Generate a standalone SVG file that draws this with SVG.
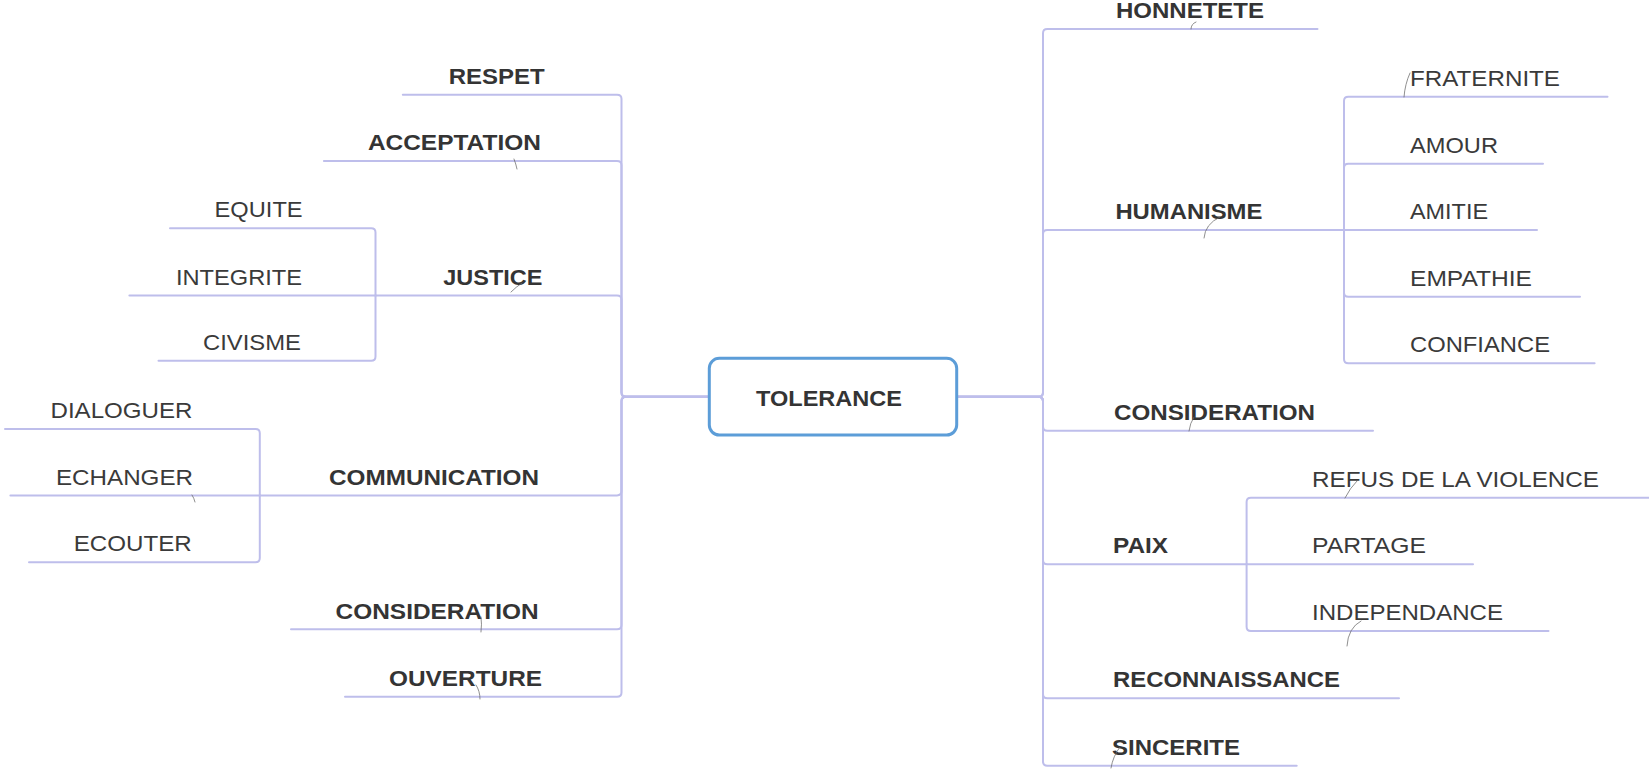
<svg xmlns="http://www.w3.org/2000/svg" width="1649" height="771" viewBox="0 0 1649 771">
  <style>
    .bg { fill: #ffffff; }
    .link { fill: none; stroke: #bebeeb; stroke-width: 2; stroke-linecap: round; stroke-linejoin: round; }
    .root { fill: #ffffff; stroke: #5c9dd8; stroke-width: 3; }
    .t1 { font-family: "Liberation Sans", Arial, sans-serif; font-size: 22px; font-weight: 700; fill: #343434; }
    .t2 { font-family: "Liberation Sans", Arial, sans-serif; font-size: 22px; font-weight: 400; fill: #3a3a3a; }
    .mark { fill: none; stroke: #6a6a6a; stroke-width: 1; stroke-linecap: round; opacity: 0.75; }
  </style>

  <rect class="bg" x="0" y="0" width="1649" height="771"/>

  <!-- connectors -->
  <g id="connectors">
    <!-- left branches, leaving the root and curving onto the left trunk -->
    <path class="link" d="M 709 396.7 H 626 Q 621.5 396.7 621.5 392.2 V 99 Q 621.5 94.7 617 94.7 H 402.8"/>
    <path class="link" d="M 709 396.7 H 626 Q 621.5 396.7 621.5 392.2 V 165.2 Q 621.5 160.9 617 160.9 H 323.9"/>
    <path class="link" d="M 709 396.7 H 626 Q 621.5 396.7 621.5 392.2 V 299.8 Q 621.5 295.5 617 295.5 H 375.5"/>
    <path class="link" d="M 709 396.7 H 626 Q 621.5 396.7 621.5 401.2 V 491.1 Q 621.5 495.4 617 495.4 H 259.8"/>
    <path class="link" d="M 709 396.7 H 626 Q 621.5 396.7 621.5 401.2 V 625 Q 621.5 629.3 617 629.3 H 291"/>
    <path class="link" d="M 709 396.7 H 626 Q 621.5 396.7 621.5 401.2 V 692.4 Q 621.5 696.7 617 696.7 H 345"/>

    <!-- JUSTICE children -->
    <path class="link" d="M 375.5 295.5 H 129.4"/>
    <path class="link" d="M 375.5 295.5 V 232.5 Q 375.5 228.2 371.2 228.2 H 170"/>
    <path class="link" d="M 375.5 295.5 V 356.4 Q 375.5 360.7 371.2 360.7 H 158.5"/>

    <!-- COMMUNICATION children -->
    <path class="link" d="M 259.8 495.4 H 10.4"/>
    <path class="link" d="M 259.8 495.4 V 433.3 Q 259.8 429 255.5 429 H 5"/>
    <path class="link" d="M 259.8 495.4 V 558 Q 259.8 562.3 255.5 562.3 H 29"/>

    <!-- right branches, leaving the root and curving onto the right trunk -->
    <path class="link" d="M 956.7 396.7 H 1038.5 Q 1043 396.7 1043 392.2 V 33.3 Q 1043 29 1047.3 29 H 1317.5"/>
    <path class="link" d="M 956.7 396.7 H 1038.5 Q 1043 396.7 1043 392.2 V 234.3 Q 1043 230 1047.3 230 H 1344"/>
    <path class="link" d="M 956.7 396.7 H 1038.5 Q 1043 396.7 1043 401.2 V 426.4 Q 1043 430.7 1047.3 430.7 H 1373"/>
    <path class="link" d="M 956.7 396.7 H 1038.5 Q 1043 396.7 1043 401.2 V 560 Q 1043 564.3 1047.3 564.3 H 1246.6"/>
    <path class="link" d="M 956.7 396.7 H 1038.5 Q 1043 396.7 1043 401.2 V 694 Q 1043 698.3 1047.3 698.3 H 1399"/>
    <path class="link" d="M 956.7 396.7 H 1038.5 Q 1043 396.7 1043 401.2 V 761.4 Q 1043 765.7 1047.3 765.7 H 1296.7"/>

    <!-- HUMANISME children -->
    <path class="link" d="M 1344 230 V 101 Q 1344 96.7 1348.3 96.7 H 1607.5"/>
    <path class="link" d="M 1344 230 V 168 Q 1344 163.7 1348.3 163.7 H 1543"/>
    <path class="link" d="M 1344 230 H 1537"/>
    <path class="link" d="M 1344 230 V 292.4 Q 1344 296.7 1348.3 296.7 H 1580"/>
    <path class="link" d="M 1344 230 V 359 Q 1344 363.3 1348.3 363.3 H 1594.6"/>

    <!-- PAIX children -->
    <path class="link" d="M 1246.6 564.3 V 502 Q 1246.6 497.7 1250.9 497.7 H 1649"/>
    <path class="link" d="M 1246.6 564.3 H 1473"/>
    <path class="link" d="M 1246.6 564.3 V 626.7 Q 1246.6 631 1250.9 631 H 1548.5"/>
  </g>

  <!-- root -->
  <g id="node-tolerance">
    <rect class="root" x="709.3" y="358.3" width="247.4" height="76.7" rx="10" ry="10"/>
    <text class="t1" x="756" y="406" textLength="146" lengthAdjust="spacingAndGlyphs">TOLERANCE</text>
  </g>

  <!-- left side -->
  <g id="node-respet"><text class="t1" x="448.7" y="83.7" textLength="96" lengthAdjust="spacingAndGlyphs">RESPET</text></g>
  <g id="node-acceptation"><text class="t1" x="367.9" y="150" textLength="173" lengthAdjust="spacingAndGlyphs">ACCEPTATION</text></g>
  <g id="node-justice"><text class="t1" x="443.3" y="284.5" textLength="99" lengthAdjust="spacingAndGlyphs">JUSTICE</text></g>
  <g id="node-equite"><text class="t2" x="214.6" y="217.2" textLength="88" lengthAdjust="spacingAndGlyphs">EQUITE</text></g>
  <g id="node-integrite"><text class="t2" x="176" y="284.5" textLength="126" lengthAdjust="spacingAndGlyphs">INTEGRITE</text></g>
  <g id="node-civisme"><text class="t2" x="203" y="349.7" textLength="98" lengthAdjust="spacingAndGlyphs">CIVISME</text></g>
  <g id="node-communication"><text class="t1" x="329" y="484.5" textLength="210" lengthAdjust="spacingAndGlyphs">COMMUNICATION</text></g>
  <g id="node-dialoguer"><text class="t2" x="50.5" y="417.5" textLength="142" lengthAdjust="spacingAndGlyphs">DIALOGUER</text></g>
  <g id="node-echanger"><text class="t2" x="56" y="484.5" textLength="137" lengthAdjust="spacingAndGlyphs">ECHANGER</text></g>
  <g id="node-ecouter"><text class="t2" x="73.7" y="551" textLength="118" lengthAdjust="spacingAndGlyphs">ECOUTER</text></g>
  <g id="node-consideration-left"><text class="t1" x="335.6" y="618.5" textLength="203" lengthAdjust="spacingAndGlyphs">CONSIDERATION</text></g>
  <g id="node-ouverture"><text class="t1" x="389" y="685.5" textLength="153" lengthAdjust="spacingAndGlyphs">OUVERTURE</text></g>

  <!-- right side -->
  <g id="node-honnetete"><text class="t1" x="1116" y="18.2" textLength="148" lengthAdjust="spacingAndGlyphs">HONNETETE</text></g>
  <g id="node-humanisme"><text class="t1" x="1115.4" y="219" textLength="147" lengthAdjust="spacingAndGlyphs">HUMANISME</text></g>
  <g id="node-fraternite"><text class="t2" x="1410" y="85.7" textLength="150" lengthAdjust="spacingAndGlyphs">FRATERNITE</text></g>
  <g id="node-amour"><text class="t2" x="1410" y="152.7" textLength="88" lengthAdjust="spacingAndGlyphs">AMOUR</text></g>
  <g id="node-amitie"><text class="t2" x="1410" y="219" textLength="78" lengthAdjust="spacingAndGlyphs">AMITIE</text></g>
  <g id="node-empathie"><text class="t2" x="1410" y="285.7" textLength="122" lengthAdjust="spacingAndGlyphs">EMPATHIE</text></g>
  <g id="node-confiance"><text class="t2" x="1410" y="352.3" textLength="140" lengthAdjust="spacingAndGlyphs">CONFIANCE</text></g>
  <g id="node-consideration-right"><text class="t1" x="1114" y="419.7" textLength="201" lengthAdjust="spacingAndGlyphs">CONSIDERATION</text></g>
  <g id="node-paix"><text class="t1" x="1113" y="553.3" textLength="55" lengthAdjust="spacingAndGlyphs">PAIX</text></g>
  <g id="node-refus"><text class="t2" x="1312" y="486.7" textLength="287" lengthAdjust="spacingAndGlyphs">REFUS DE LA VIOLENCE</text></g>
  <g id="node-partage"><text class="t2" x="1312" y="553.3" textLength="114" lengthAdjust="spacingAndGlyphs">PARTAGE</text></g>
  <g id="node-independance"><text class="t2" x="1312" y="620" textLength="191" lengthAdjust="spacingAndGlyphs">INDEPENDANCE</text></g>
  <g id="node-reconnaissance"><text class="t1" x="1113" y="687.3" textLength="227" lengthAdjust="spacingAndGlyphs">RECONNAISSANCE</text></g>
  <g id="node-sincerite"><text class="t1" x="1112" y="754.7" textLength="128" lengthAdjust="spacingAndGlyphs">SINCERITE</text></g>

  <!-- small pencil strokes on the sheet -->
  <g id="pencil-marks">
    <path class="mark" d="M 514 159 Q 516 164 517 169"/>
    <path class="mark" d="M 522 283 Q 516 287 511 292"/>
    <path class="mark" d="M 481 617 Q 482 624 481 632"/>
    <path class="mark" d="M 476 685 Q 480 691 480 699"/>
    <path class="mark" d="M 192 495 Q 194 498 195 502"/>
    <path class="mark" d="M 1196 22 Q 1191 24 1191 29"/>
    <path class="mark" d="M 1220 217 Q 1205 224 1204 238"/>
    <path class="mark" d="M 1410 73 Q 1405 84 1404 97"/>
    <path class="mark" d="M 1194 417 Q 1190 423 1189 431"/>
    <path class="mark" d="M 1357 481 Q 1350 488 1345 498"/>
    <path class="mark" d="M 1361 621 Q 1348 628 1347 646"/>
    <path class="mark" d="M 1120 747 Q 1113 756 1111 768"/>
  </g>
</svg>
